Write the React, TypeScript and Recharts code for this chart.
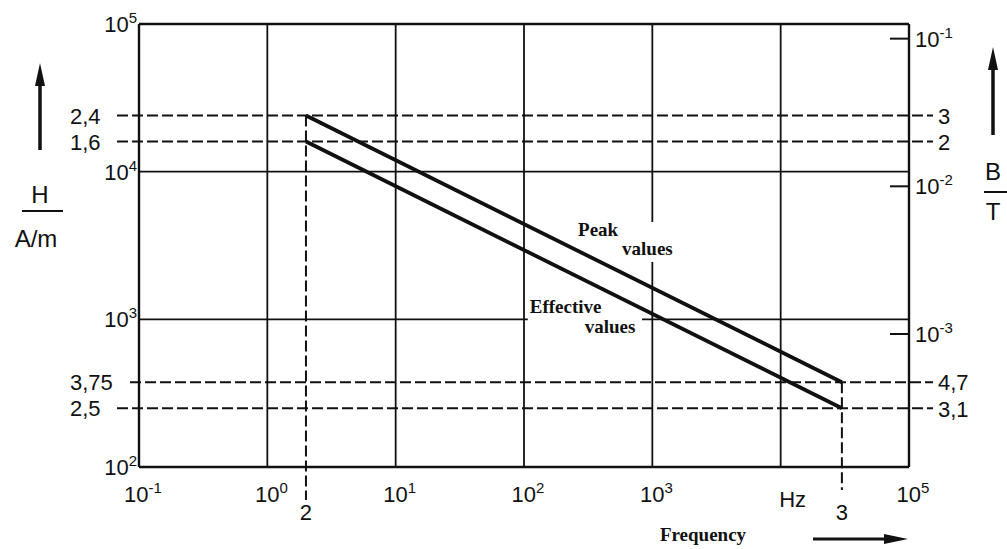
import React from 'react';
import { ComposedChart, Line, XAxis, YAxis, CartesianGrid, ReferenceLine, ReferenceArea } from 'recharts';

const MU0 = 4e-7 * Math.PI;
const INK = '#111';
const FONT = "'Liberation Sans', Arial, sans-serif";
const SERIF = "'Liberation Serif', 'Times New Roman', serif";

// end points of the two lines: frequency (Hz) -> field strength H (A/m)
const freqHz = [2, 30000];
const peakH = [24000, 375];
const effectiveH = [16000, 250];

// ticks and their printed labels ("10^n" means a power of ten)
const freqTicks = [0.1, 1, 2, 10, 100, 1000, 10000, 30000, 100000];
const freqLabels = ['10^-1', '10^0', '2', '10^1', '10^2', '10^3', 'Hz', '3', '10^5'];
const hTicks = [100, 250, 375, 1000, 10000, 16000, 24000, 100000];
const hLabels = ['10^2', '2,5', '3,75', '10^3', '10^4', '1,6', '2,4', '10^5'];
const bTicks = [0.00031, 0.00047, 0.001, 0.01, 0.02, 0.03, 0.1];
const bLabels = ['3,1', '4,7', '10^-3', '10^-2', '2', '3', '10^-1'];

// decade grid lines
const freqGrid = [1, 10, 100, 1000, 10000];
const hGrid = [1000, 10000];

const data = freqHz.map((f, i) => ({ f, peak: peakH[i], eff: effectiveH[i] }));

const labelOf = (ticks: number[], labels: string[], v: number) =>
  labels[ticks.findIndex(t => Math.abs(t - v) / t < 1e-6)] ?? '';

function TickText({ x, y, label, anchor }: any) {
  const m = /^10\^(.+)$/.exec(label);
  return (
    <text x={x} y={y} textAnchor={anchor} fontFamily={FONT} fontSize={22} fill={INK}>
      {m ? (
        <>
          <tspan>10</tspan>
          <tspan fontSize={15} dy={-9}>{m[1]}</tspan>
        </>
      ) : label}
    </text>
  );
}

const LeftTick = (p: any) => {
  const label = labelOf(hTicks, hLabels, p.payload.value);
  if (label.startsWith('10^')) return <TickText x={p.x} y={p.y + 8} label={label} anchor="end" />;
  return <TickText x={p.x - 67} y={p.y + 8} label={label} anchor="start" />;
};

const RightTick = (p: any) => {
  const label = labelOf(bTicks, bLabels, p.payload.value);
  if (label.startsWith('10^')) {
    return (
      <g>
        <line x1={p.x - 25} x2={p.x - 6} y1={p.y} y2={p.y} stroke={INK} strokeWidth={2} />
        <TickText x={p.x} y={p.y + 8} label={label} anchor="start" />
      </g>
    );
  }
  return <TickText x={p.x + 23} y={p.y + 8} label={label} anchor="start" />;
};

const BottomTick = (p: any) => {
  const label = labelOf(freqTicks, freqLabels, p.payload.value);
  if (label.startsWith('10^')) return <TickText x={p.x + 4} y={p.y + 35} label={label} anchor="middle" />;
  if (label === 'Hz') return <TickText x={p.x + 12} y={p.y + 40} label={label} anchor="middle" />;
  return <TickText x={p.x} y={p.y + 53} label={label} anchor="middle" />;
};

// dashed guide that runs past the plot border
const dashH = (left: number, right: number) => (p: any) => (
  <line x1={p.x1 - left} x2={p.x2 + right} y1={p.y1} y2={p.y2}
    stroke={INK} strokeWidth={2} strokeDasharray="11 4" />
);
const dashV = (down: number) => (p: any) => (
  <line x1={p.x1} x2={p.x2} y1={p.y1} y2={p.y2 + down}
    stroke={INK} strokeWidth={2} strokeDasharray="11 4" />
);

const boxLabel = (lines: { text: string; dx: number; dy: number }[]) => (p: any) => {
  const vb = p.viewBox || {};
  return (
    <g>
      {lines.map((l, i) => (
        <text key={i} x={vb.x + l.dx} y={vb.y + l.dy} fontFamily={SERIF} fontWeight="bold"
          fontSize={19} fill={INK}>{l.text}</text>
      ))}
    </g>
  );
};

export default function App() {
  return (
    <div style={{ position: 'absolute', left: 0, top: 0, width: 1007, height: 549, background: '#fff' }}>
      <ComposedChart width={1007} height={549} data={data}
        margin={{ top: 24, right: 0, bottom: 0, left: 0 }}>
        <XAxis dataKey="f" type="number" scale="log" domain={[0.1, 100000]} allowDataOverflow
          ticks={freqTicks} interval={0} height={82} tickLine={false} tickSize={0} tickMargin={0}
          axisLine={{ stroke: INK, strokeWidth: 2.4 }} tick={BottomTick} />
        {/* hidden axes that only carry the decade grid */}
        <XAxis xAxisId="gx" dataKey="f" type="number" scale="log" domain={[0.1, 100000]}
          allowDataOverflow ticks={freqGrid} interval={0} hide />
        <YAxis yAxisId="gy" type="number" scale="log" domain={[100, 100000]} allowDataOverflow
          ticks={hGrid} interval={0} hide />
        <YAxis yAxisId="H" orientation="left" type="number" scale="log" domain={[100, 100000]}
          allowDataOverflow ticks={hTicks} interval={0} width={139} tickLine={false} tickSize={0}
          tickMargin={2} axisLine={{ stroke: INK, strokeWidth: 2.4 }} tick={LeftTick} />
        <YAxis yAxisId="B" orientation="right" type="number" scale="log"
          domain={[MU0 * 100, MU0 * 100000]} allowDataOverflow ticks={bTicks} interval={0}
          width={98} tickLine={false} tickSize={0} tickMargin={6}
          axisLine={{ stroke: INK, strokeWidth: 2.4 }} tick={RightTick} />

        <CartesianGrid xAxisId="gx" yAxisId="gy" stroke={INK} strokeWidth={1.8} />
        <ReferenceLine y={100000} yAxisId="H" stroke={INK} strokeWidth={2.4} />

        <ReferenceArea yAxisId="H" x1={237} x2={1644} y1={2443} y2={4560} fill="#fff"
          fillOpacity={1} stroke="none"
          label={{ content: boxLabel([{ text: 'Peak', dx: 6, dy: 14 }, { text: 'values', dx: 50, dy: 33 }]) }} />
        <ReferenceArea yAxisId="H" x1={107} x2={831} y1={748} y2={1439} fill="#fff"
          fillOpacity={1} stroke="none"
          label={{ content: boxLabel([{ text: 'Effective', dx: 2, dy: 17 }, { text: 'values', dx: 57, dy: 37 }]) }} />

        <ReferenceLine y={peakH[0]} yAxisId="H" shape={dashH(22, 24)} />
        <ReferenceLine y={effectiveH[0]} yAxisId="H" shape={dashH(22, 24)} />
        <ReferenceLine y={peakH[1]} yAxisId="H" shape={dashH(9, 24)} />
        <ReferenceLine y={effectiveH[1]} yAxisId="H" shape={dashH(22, 24)} />
        <ReferenceLine yAxisId="H" segment={[{ x: freqHz[0], y: peakH[0] }, { x: freqHz[0], y: 100 }]}
          shape={dashV(33)} />
        <ReferenceLine yAxisId="H" segment={[{ x: freqHz[1], y: peakH[1] }, { x: freqHz[1], y: 100 }]}
          shape={dashV(23)} />

        <Line yAxisId="H" dataKey="peak" type="linear" stroke={INK} strokeWidth={3.8} dot={false}
          isAnimationActive={false} />
        <Line yAxisId="H" dataKey="eff" type="linear" stroke={INK} strokeWidth={3.8} dot={false}
          isAnimationActive={false} />
      </ComposedChart>

      {/* axis titles and arrows */}
      <svg width={1007} height={549} style={{ position: 'absolute', left: 0, top: 0, pointerEvents: 'none' }}>
        <line x1={40} x2={40} y1={150} y2={80} stroke={INK} strokeWidth={3.5} />
        <polygon points="40,63 35,86 45,86" fill={INK} />
        <text x={40} y={203} textAnchor="middle" fontFamily={FONT} fontSize={24} fill={INK}>H</text>
        <line x1={22} x2={63} y1={211} y2={211} stroke={INK} strokeWidth={2} />
        <text x={36} y={247} textAnchor="middle" fontFamily={FONT} fontSize={24} fill={INK}>A/m</text>

        <line x1={993} x2={993} y1={135} y2={65} stroke={INK} strokeWidth={3.5} />
        <polygon points="993,47 988,70 998,70" fill={INK} />
        <text x={993} y={180} textAnchor="middle" fontFamily={FONT} fontSize={24} fill={INK}>B</text>
        <line x1={984} x2={1007} y1={192} y2={192} stroke={INK} strokeWidth={2} />
        <text x={993} y={220} textAnchor="middle" fontFamily={FONT} fontSize={24} fill={INK}>T</text>

        <text x={703} y={541} textAnchor="middle" fontFamily={SERIF} fontWeight="bold" fontSize={19} fill={INK}>Frequency</text>
        <line x1={813} x2={890} y1={539} y2={539} stroke={INK} strokeWidth={3} />
        <polygon points="908,539 884,534 884,544" fill={INK} />
      </svg>
    </div>
  );
}
